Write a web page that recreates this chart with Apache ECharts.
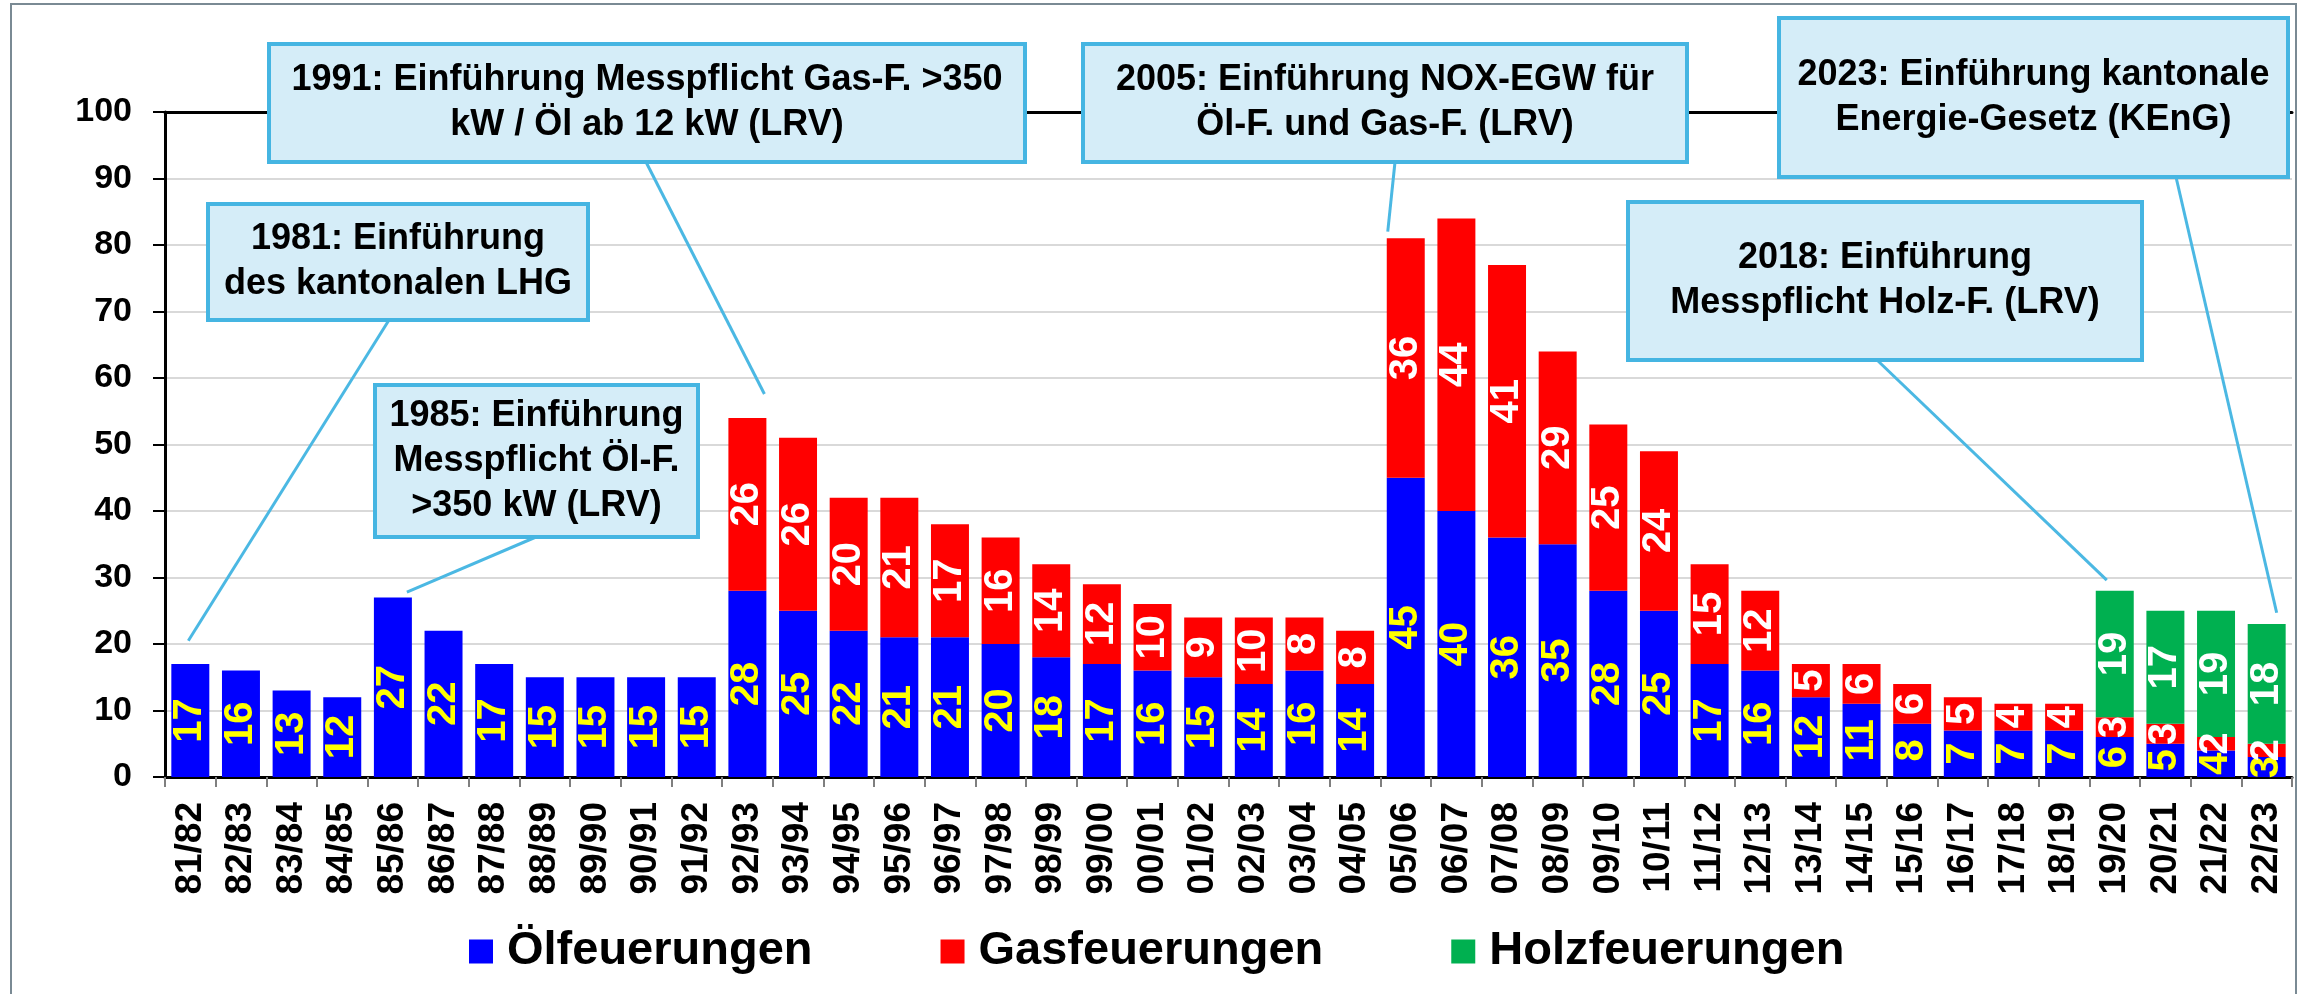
<!DOCTYPE html>
<html><head><meta charset="utf-8">
<script src="https://cdn.jsdelivr.net/npm/echarts@6/dist/echarts.min.js"></script>
<style>html,body{margin:0;padding:0;background:#fff}#c{width:2303px;height:994px}</style>
</head><body><div id="c"></div>
<script>
// ---- data ----
const categories = ['81/82','82/83','83/84','84/85','85/86','86/87','87/88','88/89','89/90','90/91','91/92','92/93','93/94','94/95','95/96','96/97','97/98','98/99','99/00','00/01','01/02','02/03','03/04','04/05','05/06','06/07','07/08','08/09','09/10','10/11','11/12','12/13','13/14','14/15','15/16','16/17','17/18','18/19','19/20','20/21','21/22','22/23'];
const oelfeuerungen = [17,16,13,12,27,22,17,15,15,15,15,28,25,22,21,21,20,18,17,16,15,14,16,14,45,40,36,35,28,25,17,16,12,11,8,7,7,7,6,5,4,3];
const gasfeuerungen = [0,0,0,0,0,0,0,0,0,0,0,26,26,20,21,17,16,14,12,10,9,10,8,8,36,44,41,29,25,24,15,12,5,6,6,5,4,4,3,3,2,2];
const holzfeuerungen = [0,0,0,0,0,0,0,0,0,0,0,0,0,0,0,0,0,0,0,0,0,0,0,0,0,0,0,0,0,0,0,0,0,0,0,0,0,0,19,17,19,18];
const seriesNames = ['Ölfeuerungen','Gasfeuerungen','Holzfeuerungen'];
const yMin = 0, yMax = 100, yStep = 10;
const annotationTexts = [
  '1981: Einführung\ndes kantonalen LHG',
  '1985: Einführung\nMesspflicht Öl-F.\n>350 kW (LRV)',
  '1991: Einführung Messpflicht Gas-F. >350\nkW / Öl ab 12 kW (LRV)',
  '2005: Einführung NOX-EGW für\nÖl-F. und Gas-F. (LRV)',
  '2018: Einführung\nMesspflicht Holz-F. (LRV)',
  '2023: Einführung kantonale\nEnergie-Gesetz (KEnG)'
];
const annotationCategory = [0, 4, 11, 24, 38, 41];

// ---- layout / style ----
const FONT = "'Liberation Sans', Arial, Helvetica, sans-serif";
const boxes = [ // x, y, w, h
  [208, 204, 380, 116],
  [375, 385, 323, 152],
  [269, 44, 756, 118],
  [1083, 44, 604, 118],
  [1628, 202, 514, 158],
  [1779, 18, 509, 159]
];
const leaderStart = [[389, 320], [536, 537], [646, 162], [1395, 162], [1877, 360], [2176, 177]];
const leaderEndOffset = [[-2, 3.5], [14, 0.8], [17, 3.6], [-18, 1], [-8, 1.6], [10, 1.7]]; // [dx px, extra value]

const chart = echarts.init(document.getElementById('c'), null, {renderer: 'canvas'});
const lbl = (color) => ({
  show: true, position: 'inside', rotate: 90, color: color,
  fontSize: 40, fontWeight: 'bold', fontFamily: FONT,
  formatter: p => (p.value ? String(p.value) : '')
});
const option = {
  animation: false,
  backgroundColor: '#fff',
  textStyle: {fontFamily: FONT},
  grid: {left: 165, right: 11, top: 112, bottom: 217, containLabel: false},
  legend: {
    data: seriesNames, left: 469, top: 928, padding: 0,
    itemWidth: 24, itemHeight: 24, itemGap: 128, icon: 'rect',
    textStyle: {fontSize: 47, fontWeight: 'bold', color: '#000', fontFamily: FONT, padding: [0, 0, 0, 9]}
  },
  xAxis: [{
    type: 'category', data: categories,
    axisLine: {lineStyle: {color: '#000', width: 3}},
    axisTick: {show: true, length: 10, lineStyle: {color: '#7f7f7f', width: 2}},
    axisLabel: {interval: 0, rotate: 90, margin: 25, fontSize: 37, fontWeight: 'bold', color: '#000', fontFamily: FONT}
  }, {
    type: 'category', data: categories, position: 'top',
    axisLine: {show: true, lineStyle: {color: '#000', width: 3}},
    axisTick: {show: false}, axisLabel: {show: false}
  }],
  yAxis: {
    type: 'value', min: yMin, max: yMax, interval: yStep,
    axisLine: {show: true, lineStyle: {color: '#000', width: 3}},
    axisTick: {show: true, length: 12, lineStyle: {color: '#000', width: 2}},
    axisLabel: {margin: 33, fontSize: 34, fontWeight: 'bold', color: '#000', fontFamily: FONT},
    splitLine: {lineStyle: {color: '#d9d9d9', width: 2}}
  },
  series: [
    {name: seriesNames[0], type: 'bar', stack: 'a', data: oelfeuerungen, barCategoryGap: '25%', itemStyle: {color: '#0000ff'}, label: lbl('#ffff00')},
    {name: seriesNames[1], type: 'bar', stack: 'a', data: gasfeuerungen, itemStyle: {color: '#ff0000'}, label: lbl('#ffffff')},
    {name: seriesNames[2], type: 'bar', stack: 'a', data: holzfeuerungen, itemStyle: {color: '#00b050'}, label: lbl('#ffffff')}
  ]
};
chart.setOption(option);

const graphics = [];
graphics.push({type: 'rect', silent: true, z: 0, shape: {x: 11, y: 4, width: 2285, height: 1100},
  style: {fill: 'none', stroke: '#7a8a94', lineWidth: 2}});
annotationCategory.forEach((ci, k) => {
  const total = oelfeuerungen[ci] + gasfeuerungen[ci] + holzfeuerungen[ci];
  const p = chart.convertToPixel({gridIndex: 0}, [categories[ci], total + leaderEndOffset[k][1]]);
  graphics.push({type: 'line', silent: true, z: 100,
    shape: {x1: leaderStart[k][0], y1: leaderStart[k][1], x2: p[0] + leaderEndOffset[k][0], y2: p[1]},
    style: {stroke: '#4bb8e3', lineWidth: 3}});
});
boxes.forEach((b, k) => {
  graphics.push({type: 'rect', silent: true, z: 101,
    shape: {x: b[0], y: b[1], width: b[2], height: b[3]},
    style: {fill: '#d5edf8', stroke: '#45b5e2', lineWidth: 4}});
  graphics.push({type: 'text', silent: true, z: 102,
    x: b[0] + b[2] / 2, y: b[1] + b[3] / 2,
    style: {text: annotationTexts[k], fill: '#000', font: "bold 36px " + FONT,
      align: 'center', verticalAlign: 'middle', lineHeight: 45}});
});
chart.setOption({graphic: graphics});
</script>
</body></html>
